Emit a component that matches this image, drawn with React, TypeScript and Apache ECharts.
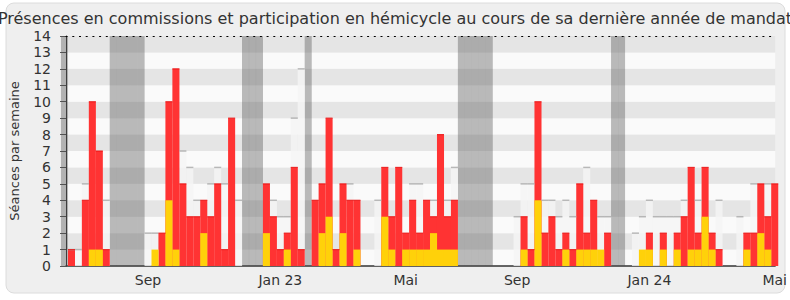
import React, { useEffect, useRef } from "react";
import * as echarts from "echarts";

// Weekly values (week index 0..102)
const commissionPresence = [
  0, 1, 0, 4, 10, 7, 1, 0, 0, 0,
  0, 0, 0, 0, 2, 10, 12, 5, 3, 3,
  4, 3, 5, 1, 9, 0, 0, 0, 0, 5,
  3, 1, 2, 6, 1, 0, 4, 5, 9, 1,
  5, 4, 4, 0, 0, 0, 6, 3, 6, 2,
  4, 2, 4, 3, 8, 3, 4, 0, 0, 0,
  0, 0, 0, 0, 0, 0, 3, 1, 10, 2,
  3, 1, 2, 1, 5, 2, 4, 0, 2, 0,
  0, 0, 0, 0, 2, 0, 2, 0, 2, 3,
  6, 2, 6, 2, 1, 0, 0, 0, 2, 2,
  5, 3, 5,
];

const hemicycleParticipation = [
  0, 0, 0, 0, 1, 1, 0, 0, 0, 0,
  0, 0, 0, 1, 0, 4, 1, 0, 0, 0,
  2, 0, 0, 0, 0, 0, 0, 0, 0, 2,
  0, 0, 1, 0, 0, 0, 0, 2, 3, 0,
  2, 0, 1, 0, 0, 0, 3, 1, 0, 1,
  1, 1, 1, 2, 1, 1, 1, 0, 0, 0,
  0, 0, 0, 0, 0, 0, 1, 0, 4, 0,
  0, 0, 1, 0, 1, 1, 1, 1, 0, 0,
  0, 0, 0, 1, 1, 0, 1, 0, 1, 0,
  1, 1, 3, 1, 0, 0, 0, 0, 1, 0,
  2, 1, 0,
];

const hemicyclePresence = [
  0, 1, 1, 5, 0, 0, 4, 0, 0, 0,
  0, 0, 2, 2, 0, 0, 0, 7, 6, 4,
  0, 5, 6, 5, 0, 4, 0, 0, 0, 0,
  4, 3, 3, 9, 12, 0, 0, 0, 0, 0,
  0, 5, 0, 0, 0, 4, 0, 0, 0, 0,
  5, 5, 0, 4, 0, 4, 6, 0, 0, 0,
  0, 0, 0, 0, 0, 3, 5, 5, 0, 4,
  4, 3, 4, 3, 0, 6, 0, 3, 3, 0,
  0, 0, 2, 3, 4, 3, 3, 3, 3, 4,
  0, 4, 0, 0, 4, 0, 0, 3, 0, 5,
  0, 5, 0,
];

const vacationWeeks = [0, 7, 8, 9, 10, 11, 26, 27, 28, 35, 57, 58, 59, 60, 61, 79, 80];

const xTickWeeks = [12, 31, 49, 65, 84, 102];
const xTickLabels = ["Sep", "Jan 23", "Mai", "Sep", "Jan 24", "Mai"];

const yTickMax = 14;

const FONT = "DejaVu Sans";

export default function App() {
  const ref = useRef<HTMLDivElement>(null);

  useEffect(() => {
    if (!ref.current) return;
    const chart = echarts.init(ref.current, undefined, { renderer: "svg" });

    const gridLeft = 62;
    const gridRight = 10;
    const gridWidth = 790 - gridLeft - gridRight;
    const xMin = 0.716;
    const xMax = 102.56;
    const slotPx = gridWidth / (xMax - xMin);

    const center = (k: number) => k + 0.5;

    const vacData = vacationWeeks.map((k) => [center(k), yTickMax]);
    const lightData = hemicyclePresence
      .map((v, k) => [center(k), v])
      .filter((d) => d[1] > 0);
    const redData = commissionPresence
      .map((v, k) => [center(k), v])
      .filter((d) => d[1] > 0);
    const yellowData = hemicycleParticipation
      .map((v, k) => [center(k), v])
      .filter((d) => d[1] > 0);

    const option: any = {
      animation: false,
      title: {
        text:
          "Présences en commissions et participation en hémicycle au cours de sa dernière année de mandat",
        left: "center",
        top: 5,
        padding: [5, 2, 5, 8],
        textStyle: {
          fontFamily: FONT,
          fontSize: 16,
          fontWeight: "normal",
          color: "#333",
        },
      },
      graphic: [
        {
          type: "rect",
          z: -10,
          silent: true,
          shape: { x: 6, y: 3, width: 779, height: 290, r: 8 },
          style: { fill: "#efefef", stroke: "#dcdcdc", lineWidth: 1 },
        },
      ],
      grid: { left: gridLeft, right: gridRight, top: 36, bottom: 34, containLabel: false },
      xAxis: [
        {
          type: "value",
          min: xMin,
          max: xMax,
          axisLine: { show: true, lineStyle: { color: "#333", width: 1.5 } },
          axisTick: { show: false },
          splitLine: { show: false },
          axisLabel: {
            customValues: xTickWeeks.map((w) => center(w)),
            formatter: (val: number) => {
              const i = xTickWeeks.indexOf(Math.round(val - 0.5));
              return i >= 0 ? xTickLabels[i] : "";
            },
            fontFamily: FONT,
            fontSize: 14,
            color: "#333",
            margin: 7,
          },
        },
        {
          type: "value",
          position: "top",
          min: xMin,
          max: xMax,
          z: 10,
          axisLine: {
            show: true,
            lineStyle: { color: "#000", width: 1, type: [1.2, 5.5] },
          },
          axisTick: { show: false },
          axisLabel: { show: false },
          splitLine: { show: false },
        },
      ],
      yAxis: {
        type: "value",
        min: 0,
        max: yTickMax,
        interval: 1,
        name: "Séances par semaine",
        nameLocation: "middle",
        nameGap: 45,
        nameTextStyle: { fontFamily: FONT, fontSize: 13, color: "#333" },
        axisLine: { show: true, lineStyle: { color: "#333", width: 1 } },
        axisTick: { show: true, length: 6, lineStyle: { color: "#555" } },
        axisLabel: { fontFamily: FONT, fontSize: 14, color: "#333", margin: 15 },
        splitLine: { show: false },
        splitArea: { show: true, areaStyle: { color: ["#fafafa", "#e5e5e5"] } },
      },
      series: [
        {
          name: "Vacances",
          type: "bar",
          data: vacData,
          barWidth: slotPx,
          barGap: "-100%",
          itemStyle: { color: "rgba(80,80,80,0.38)" },
          silent: true,
        },
        {
          name: "Présences hémicycle",
          type: "bar",
          data: lightData,
          barWidth: slotPx,
          barGap: "-100%",
          itemStyle: { color: "rgba(245,245,245,0.8)" },
          silent: true,
        },
        {
          name: "Présences hémicycle top",
          type: "scatter",
          data: lightData,
          symbol: "rect",
          symbolSize: [slotPx, 1.5],
          itemStyle: { color: "#a9a9a9" },
          silent: true,
        },
        {
          name: "Présences commission",
          type: "bar",
          data: redData,
          barWidth: slotPx,
          barGap: "-100%",
          itemStyle: { color: "#ff3333" },
          silent: true,
        },
        {
          name: "Présences commission top",
          type: "scatter",
          data: redData,
          symbol: "rect",
          symbolSize: [slotPx, 1.2],
          itemStyle: { color: "#e81010" },
          silent: true,
        },
        {
          name: "Interventions",
          type: "bar",
          data: yellowData,
          barWidth: slotPx,
          barGap: "-100%",
          itemStyle: { color: "#ffd10a" },
          silent: true,
        },
      ],
    };

    chart.setOption(option);
    return () => chart.dispose();
  }, []);

  return (
    <div
      ref={ref}
      style={{ position: "absolute", left: 0, top: 0, width: 790, height: 300, background: "#fff" }}
    />
  );
}
